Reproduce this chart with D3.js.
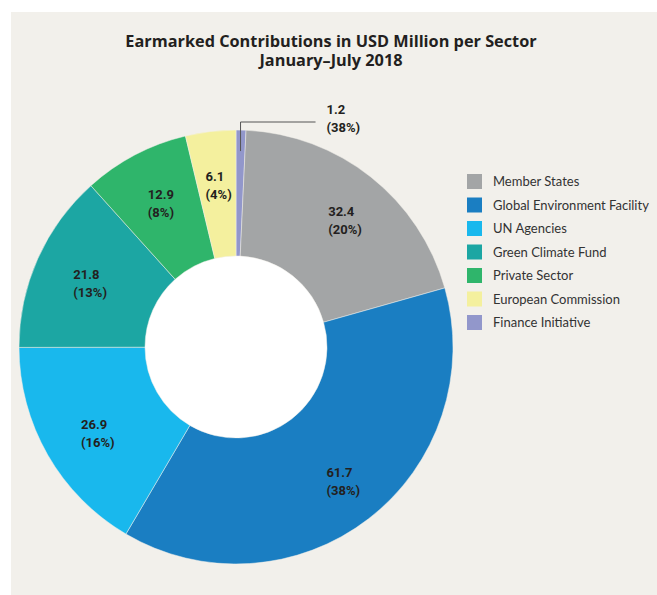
<!DOCTYPE html>
<html>
<head>
<meta charset="utf-8">
<script src="https://cdn.jsdelivr.net/npm/d3@7"></script>
<style>
  body { margin: 0; background: #ffffff; }
  svg { display: block; }
</style>
</head>
<body>
<div id="chart"></div>
<script>
// Earmarked contributions per sector (USD million), Jan-Jul 2018
const sectors = ['Member States', 'Global Environment Facility', 'UN Agencies',
    'Green Climate Fund', 'Private Sector', 'European Commission', 'Finance Initiative'];
const amounts = [32.4, 61.7, 26.9, 21.8, 12.9, 6.1, 1.2];
const shareLabels = ['(20%)', '(38%)', '(16%)', '(13%)', '(8%)', '(4%)', '(38%)'];
const colors = ['#a3a5a6', '#1a7ec2', '#19b8ed', '#1ca6a3', '#2fb56b', '#f4f09e', '#9297cb'];
// the pie is drawn starting with the last sector at 12 o'clock
const pieOrder = [6, 0, 1, 2, 3, 4, 5];

const WIDTH = 657;
const HEIGHT = 595;
const CENTER = { x: 236, y: 347 };
const OUTER_R = 217;
const INNER_R = 91;
const LABEL_R = 166;

const svg = d3.select('#chart').append('svg')
    .attr('width', WIDTH)
    .attr('height', HEIGHT);

// beige panel
svg.append('rect')
    .attr('x', 11)
    .attr('y', 12)
    .attr('width', WIDTH - 11)
    .attr('height', HEIGHT - 12)
    .attr('fill', '#f2f0eb');

// Title, two lines
const titleLines = ['Earmarked Contributions in USD Million per Sector', 'January\u2013July 2018'];
titleLines.forEach((line, i) => {
    svg.append('text')
        .attr('x', 331)
        .attr('y', 46.5 + i * 19)
        .attr('text-anchor', 'middle')
        .style('font-family', '"Open Sans", Lato, sans-serif')
        .style('font-weight', 'bold')
        .style('font-size', '16.3px')
        .attr('fill', '#231f20')
        .text(line);
});

const data = pieOrder.map(i => ({ name: sectors[i], value: amounts[i], share: shareLabels[i], color: colors[i] }));

const pie = d3.pie()
    .sort(null)
    .value(d => d.value);

const arcs = pie(data);

const arc = d3.arc()
    .innerRadius(INNER_R)
    .outerRadius(OUTER_R);

const labelArc = d3.arc()
    .innerRadius(LABEL_R)
    .outerRadius(LABEL_R);

const g = svg.append('g')
    .attr('transform', `translate(${CENTER.x},${CENTER.y})`);

g.append('circle')
    .attr('r', INNER_R + 1)
    .attr('fill', '#ffffff');

g.selectAll('.slice')
    .data(arcs)
    .enter().append('path')
    .attr('class', 'slice')
    .attr('d', arc)
    .attr('fill', d => d.data.color)
    .attr('stroke', '#f2f0eb')
    .attr('stroke-width', 0.5);

const labelFont = 'Roboto, "Liberation Sans", sans-serif';

// Slice labels (all but the tiny one)
const inside = arcs.filter(d => d.data.value > 5);
const labels = g.selectAll('.slice-label')
    .data(inside)
    .enter().append('text')
    .attr('class', 'slice-label')
    .attr('transform', d => {
        const c = labelArc.centroid(d);
        return `translate(${c[0] - 11},${c[1] - 1})`;
    })
    .style('font-family', labelFont)
    .style('font-weight', 'bold')
    .style('font-size', '13px')
    .attr('fill', '#231f20');
labels.append('tspan').attr('x', 0).text(d => d.data.value.toFixed(1));
labels.append('tspan').attr('x', 0).attr('dy', 18).text(d => d.data.share);

// Leader line for the tiny slice
const small = arcs.filter(d => d.data.value <= 5);
small.forEach(d => {
    const mid = (d.startAngle + d.endAngle) / 2;
    const r0 = OUTER_R - 21;
    const x0 = Math.sin(mid) * r0;
    const y0 = -Math.cos(mid) * r0;
    const yTop = -(OUTER_R + 8);
    const xEnd = x0 + 75;
    g.append('path')
        .attr('d', `M${x0},${y0}V${yTop}H${xEnd}`)
        .attr('fill', 'none')
        .attr('stroke', '#555555')
        .attr('stroke-width', 1);
    const t = g.append('text')
        .attr('transform', `translate(${xEnd + 11},${yTop - 8})`)
        .style('font-family', labelFont)
        .style('font-weight', 'bold')
        .style('font-size', '13px')
        .attr('fill', '#231f20');
    t.append('tspan').attr('x', 0).text(d.data.value.toFixed(1));
    t.append('tspan').attr('x', 0).attr('dy', 18).text(d.data.share);
});

// Legend
const legend = svg.append('g')
    .attr('transform', 'translate(467,174)');

sectors.forEach((s, i) => {
    const row = legend.append('g')
        .attr('transform', `translate(0, ${i * 23.5})`);
    row.append('rect')
        .attr('width', 15)
        .attr('height', 15)
        .attr('fill', colors[i]);
    row.append('text')
        .attr('x', 26)
        .attr('y', 12)
        .style('font-family', 'Lato, "Open Sans", sans-serif')
        .style('font-size', '13px')
        .attr('fill', '#333333')
        .text(s);
});
</script>
</body>
</html>
